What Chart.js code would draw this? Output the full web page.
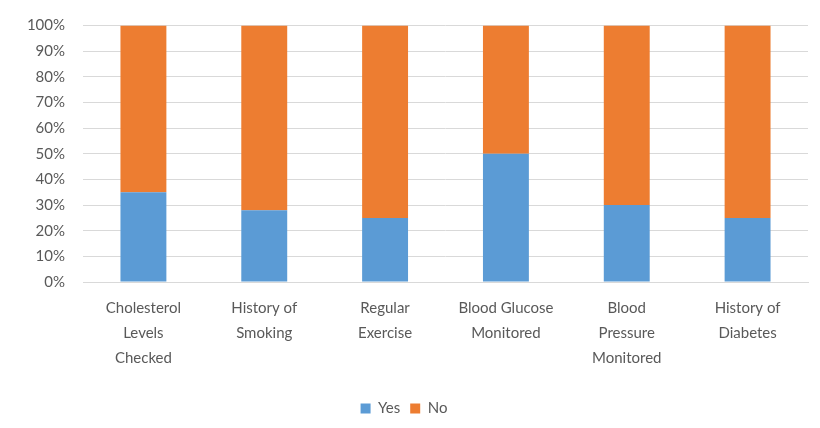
<!DOCTYPE html>
<html>
<head>
<meta charset="utf-8">
<script src="https://cdn.jsdelivr.net/npm/chart.js@4"></script>
<style>
  html, body { margin: 0; padding: 0; background: #fff; }
  #wrap { width: 820px; height: 428px; }
</style>
</head>
<body>
<div id="wrap"><canvas id="chart" width="820" height="428"></canvas></div>
<script>
const categories = [
    ['Cholesterol', 'Levels', 'Checked'],
    ['History of', 'Smoking'],
    ['Regular', 'Exercise'],
    ['Blood Glucose', 'Monitored'],
    ['Blood', 'Pressure', 'Monitored'],
    ['History of', 'Diabetes']
];
const yesValues = [35, 28, 25, 50, 30, 25];
const noValues = [65, 72, 75, 50, 70, 75];

const textColor = '#595959';
const gridColor = '#d9d9d9';
const fontFamily = 'Lato, "Liberation Sans", sans-serif';

const ctx = document.getElementById('chart').getContext('2d');
new Chart(ctx, {
    type: 'bar',
    data: {
        labels: categories,
        datasets: [
            {
                label: 'Yes',
                data: yesValues,
                backgroundColor: '#5b9bd5',
                categoryPercentage: 1,
                barPercentage: 0.38
            },
            {
                label: 'No',
                data: noValues,
                backgroundColor: '#ed7d31',
                categoryPercentage: 1,
                barPercentage: 0.38
            }
        ]
    },
    options: {
        responsive: false,
        animation: false,
        layout: {
            padding: { left: 0, right: 12, top: 16, bottom: 2 }
        },
        plugins: {
            legend: {
                position: 'bottom',
                labels: {
                    color: textColor,
                    boxWidth: 10,
                    boxHeight: 10,
                    padding: 10,
                    font: { family: fontFamily, size: 15 }
                }
            },
            tooltip: { enabled: false }
        },
        scales: {
            x: {
                stacked: true,
                grid: { display: false, drawTicks: false },
                border: { display: true, color: gridColor },
                ticks: {
                    color: textColor,
                    padding: 14,
                    maxRotation: 0,
                    autoSkip: false,
                    font: { family: fontFamily, size: 15, lineHeight: 1.65 }
                },
                afterFit: function(scale) { scale.height = 109; }
            },
            y: {
                stacked: true,
                min: 0,
                max: 100,
                grid: { color: gridColor, lineWidth: 1, drawTicks: false },
                border: { display: false },
                ticks: {
                    stepSize: 10,
                    color: textColor,
                    padding: 18,
                    font: { family: fontFamily, size: 15, lineHeight: 1 },
                    callback: function(v) { return v + '%'; }
                },
                afterFit: function(scale) { scale.width = 83; }
            }
        }
    }
});
</script>
</body>
</html>
